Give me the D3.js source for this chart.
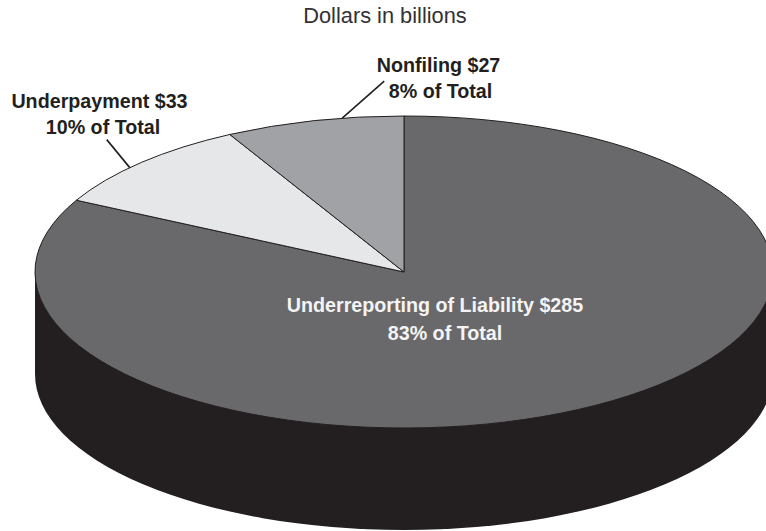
<!DOCTYPE html>
<html>
<head>
<meta charset="utf-8">
<script src="https://cdn.jsdelivr.net/npm/d3@7"></script>
<style>
  html, body { margin: 0; padding: 0; background: #fff; overflow: hidden; }
  text { font-family: "Liberation Sans", Arial, sans-serif; }
</style>
</head>
<body>
<svg id="chart" width="766" height="531"></svg>
<script>
// chart values, clockwise from 12 o'clock
const categories = ['Underreporting of Liability', 'Underpayment', 'Nonfiling'];
const amounts = [285, 33, 27];
const shares = [83, 10, 8];
const title = 'Dollars in billions';
const sliceColors = ['#69696b', '#e6e7e9', '#a1a2a5'];

const cx = 404, cy = 272, rx = 369, ry = 156, depth = 102;
const ink = '#231f20';

const svg = d3.select('#chart');

const pie = d3.pie().sort(null).value(d => d);
const arcs = pie(amounts);
const arc = d3.arc().innerRadius(0).outerRadius(rx);

// point on the rim of the top ellipse, part way (0-1) along a slice
const rim = (slice, at) => {
  const s = arcs[slice];
  const a = s.startAngle + at * (s.endAngle - s.startAngle);
  return [cx + rx * Math.sin(a), cy - ry * Math.cos(a)];
};

// side wall first, the top face covers the rest of it
const wall = svg.append('g').attr('fill', ink);
wall.append('ellipse')
    .attr('cx', cx).attr('cy', cy + depth)
    .attr('rx', rx).attr('ry', ry);
wall.append('rect')
    .attr('x', cx - rx).attr('y', cy)
    .attr('width', rx * 2).attr('height', depth);

svg.append('g')
    .attr('transform', `translate(${cx},${cy}) scale(1,${ry / rx})`)
    .selectAll('path')
    .data(arcs)
    .join('path')
    .attr('d', arc)
    .attr('fill', (d, i) => sliceColors[i])
    .attr('stroke', ink)
    .attr('stroke-width', 1)
    .attr('stroke-linejoin', 'round')
    .attr('vector-effect', 'non-scaling-stroke');

// leaders: where on the slice they start and how far they run
const leaders = [
  { slice: 1, at: 0.424, dx: -23, dy: -28 },
  { slice: 2, at: 0.658, dx: 42, dy: -37 }
];
svg.append('g')
    .selectAll('line')
    .data(leaders)
    .join('line')
    .attr('x1', d => rim(d.slice, d.at)[0])
    .attr('y1', d => rim(d.slice, d.at)[1])
    .attr('x2', d => rim(d.slice, d.at)[0] + d.dx)
    .attr('y2', d => rim(d.slice, d.at)[1] + d.dy)
    .attr('stroke', ink)
    .attr('stroke-width', 1.6);

svg.append('text')
    .attr('x', 385).attr('y', 23)
    .attr('text-anchor', 'middle')
    .attr('font-size', 21.8)
    .attr('fill', '#333133')
    .text(title);

// the two lines of each label are not quite centred on each other
const labels = [
  { x1: 435, y1: 312, x2: 445, y2: 340, fill: '#f4f4f5' },
  { x1: 99.5, y1: 108, x2: 103, y2: 134, fill: ink },
  { x1: 438.5, y1: 72, x2: 440.5, y2: 98, fill: ink }
];
labels.forEach((l, i) => {
  const t = svg.append('text')
      .attr('text-anchor', 'middle')
      .attr('font-size', 19.7)
      .attr('font-weight', 'bold')
      .attr('fill', l.fill);
  t.append('tspan').attr('x', l.x1).attr('y', l.y1)
      .text(`${categories[i]} $${amounts[i]}`);
  t.append('tspan').attr('x', l.x2).attr('y', l.y2)
      .text(`${shares[i]}% of Total`);
});
</script>
</body>
</html>
